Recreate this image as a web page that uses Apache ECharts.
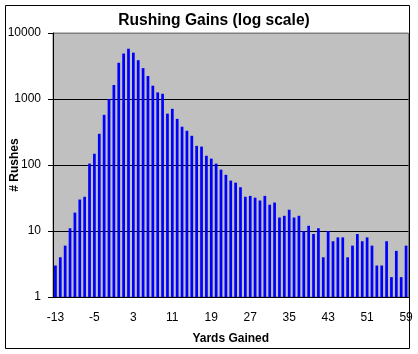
<!DOCTYPE html>
<html>
<head>
<meta charset="utf-8">
<script src="https://cdn.jsdelivr.net/npm/echarts@6/dist/echarts.min.js"></script>
<style>
  html, body { margin: 0; padding: 0; background: #fff; }
  #chart { width: 418px; height: 354px; }
</style>
</head>
<body>
<div id="chart"></div>
<script>
// yards gained, -13 .. 59
const yards = []
for (let y = -13; y <= 59; y++) yards.push(String(y))

// number of rushes per yardage
const rushes = [
  3, 4, 6, 11, 19, 30, 33, 105, 148, 297, 575, 1000, 1630,
  3540, 4880, 5780, 5040, 3870, 2940, 2230, 1590, 1260, 1200, 600,
  710, 500, 380, 330, 277, 195, 190, 138, 125, 105, 85, 71, 58, 54, 46,
  33, 34, 32, 29, 34, 25, 27, 16, 17, 21, 16, 17, 10, 12, 9, 11, 4,
  10, 7, 8, 8, 4, 6, 9, 7, 8, 6, 3, 3, 7, 2, 5, 2, 6
]

const yTicks = [1, 10, 100, 1000, 10000]

const myChart = echarts.init(document.getElementById('chart'))
const font = 'Liberation Sans, Arial, sans-serif'

myChart.setOption({
  animation: false,
  backgroundColor: '#fff',
  textStyle: { fontFamily: font },
  graphic: [{
    type: 'rect',
    shape: { x: 5.5, y: 5.5, width: 404, height: 343 },
    style: { fill: 'none', stroke: '#000', lineWidth: 1 },
    z: -1
  }],
  title: {
    text: 'Rushing Gains (log scale)',
    left: 209,
    textAlign: 'center',
    top: 8,
    textStyle: { fontSize: 15.6, fontWeight: 'bold', color: '#000', fontFamily: font }
  },
  grid: {
    left: 53,
    right: 9.5,
    top: 33,
    bottom: 57,
    containLabel: false,
    outerBoundsMode: 'none',
    show: true,
    backgroundColor: '#c0c0c0',
    borderColor: '#808080',
    borderWidth: 1
  },
  xAxis: {
    type: 'category',
    data: yards,
    name: 'Yards Gained',
    nameLocation: 'middle',
    nameGap: 36,
    nameMoveOverlap: false,
    nameTextStyle: { fontSize: 12, fontWeight: 'bold', color: '#000', fontFamily: font },
    axisLine: { lineStyle: { color: '#000', width: 1 } },
    axisTick: { show: false },
    axisLabel: {
      interval: 7,
      color: '#000',
      fontSize: 12,
      margin: 15,
      fontFamily: font
    }
  },
  yAxis: {
    type: 'log',
    logBase: 10,
    min: yTicks[0],
    max: yTicks[yTicks.length - 1],
    name: '# Rushes',
    nameLocation: 'middle',
    nameGap: 32,
    nameRotate: 90,
    nameMoveOverlap: false,
    nameTextStyle: { fontSize: 12, fontWeight: 'bold', color: '#000', fontFamily: font },
    axisLine: { show: true, lineStyle: { color: '#000', width: 1 } },
    axisTick: { show: true, inside: false, length: 5, lineStyle: { color: '#000' } },
    axisLabel: {
      color: '#000',
      fontSize: 12,
      margin: 12,
      fontFamily: font,
      formatter: v => String(Math.round(v))
    },
    splitLine: {
      show: true,
      lineStyle: { color: ['#000', '#000', '#000', '#000', '#808080'], width: 1 }
    }
  },
  series: [{
    name: '# Rushes',
    type: 'bar',
    data: rushes,
    barCategoryGap: '44%',
    itemStyle: { color: '#0000ff' }
  }]
})
</script>
</body>
</html>
